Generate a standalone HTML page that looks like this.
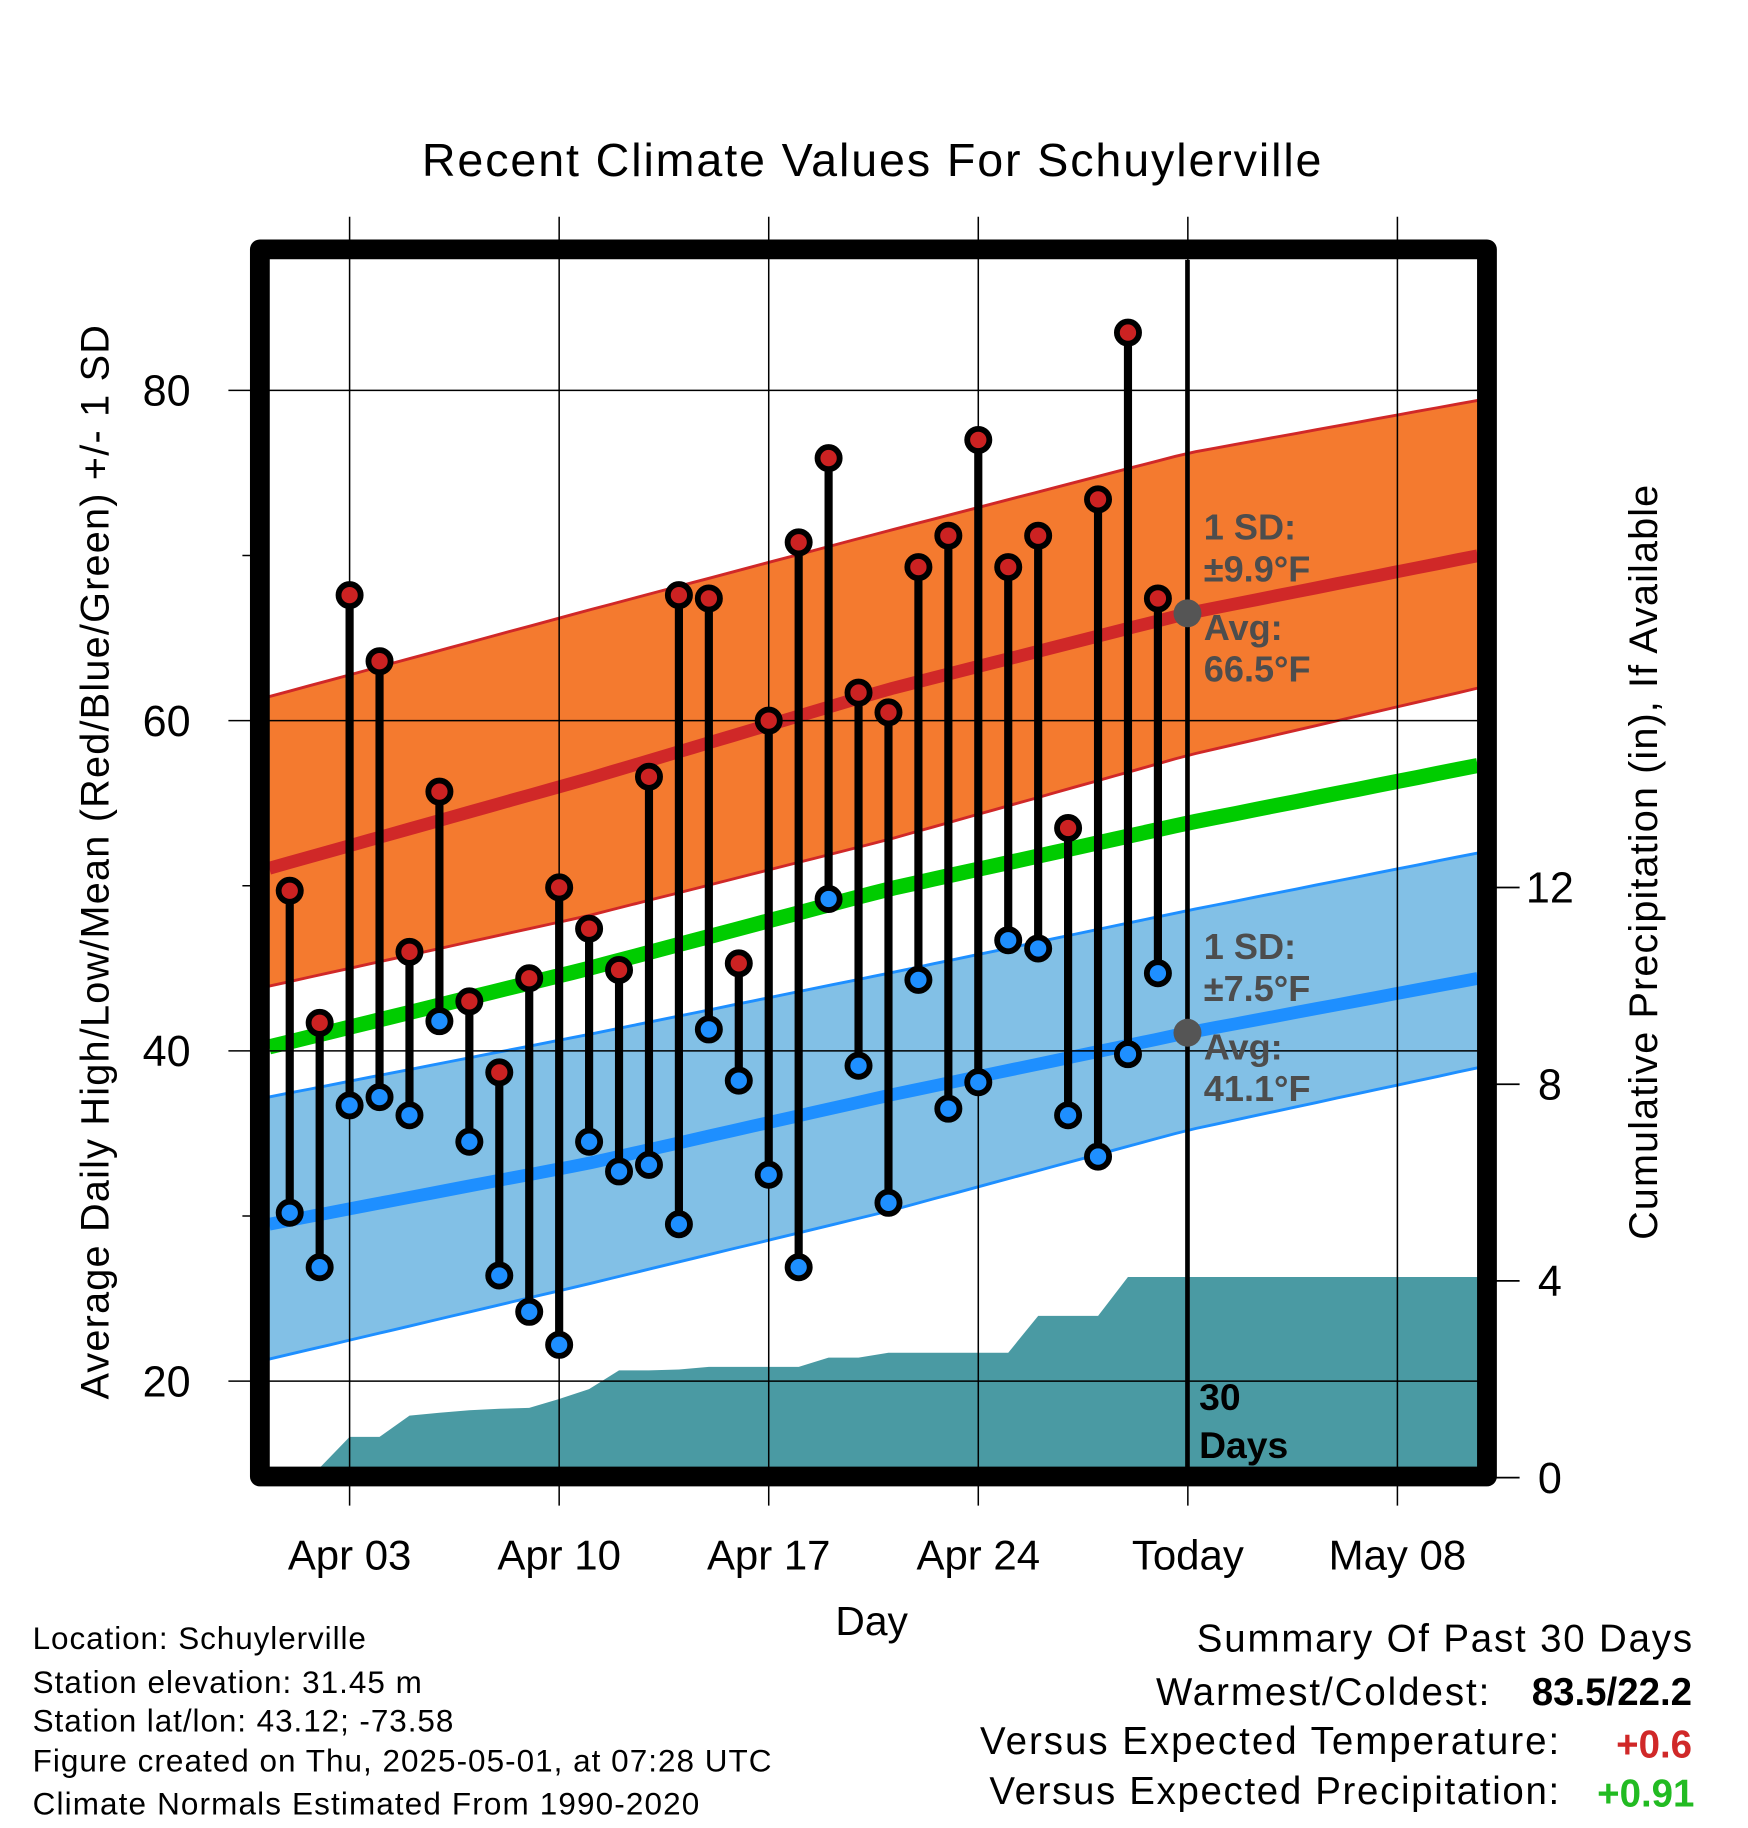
<!DOCTYPE html>
<html><head><meta charset="utf-8"><style>
html,body{margin:0;padding:0;background:#fff}
svg{display:block;font-family:"Liberation Sans",sans-serif}
</style></head><body>
<svg id="chart" width="1748" height="1828" viewBox="0 0 1500 1568.65" xmlns="http://www.w3.org/2000/svg">
<g id="layer"></g>
</svg>
<script>
const dayLabels = ["Apr 03","Apr 10","Apr 17","Apr 24","Today","May 08"];
const dayTicks = [2,9,16,23,30,37];
const highs = [49.7,41.7,67.6,63.6,46.0,55.7,43.0,38.7,44.4,49.9,47.4,44.9,56.6,67.6,67.4,45.3,60.0,70.8,75.9,61.7,60.5,69.3,71.2,77.0,69.3,71.2,53.5,73.4,83.5,67.4];
const lows = [30.2,26.9,36.7,37.2,36.1,41.8,34.5,26.4,24.2,22.2,34.5,32.7,33.1,29.5,41.3,38.2,32.5,26.9,49.2,39.1,30.8,44.3,36.5,38.1,46.7,46.2,36.1,33.6,39.8,44.7];
const precip = [0,0.2,0.83,0.83,1.26,1.32,1.37,1.40,1.42,1.60,1.80,2.18,2.18,2.20,2.25,2.25,2.25,2.25,2.44,2.44,2.54,2.54,2.54,2.54,2.54,3.29,3.29,3.29,4.08,4.08];
const normDays = [-1,10,20,30,40];
const normHigh = [50.9,56.5,61.9,66.5,70.1];
const highUpper = [61.3,66.7,71.5,76.2,79.5];
const highLower = [43.8,48.2,52.8,57.9,62.1];
const normLow = [29.4,33.2,37.3,41.1,44.5];
const lowUpper = [37.1,41.0,44.7,48.5,52.1];
const lowLower = [21.2,25.9,30.3,35.2,39.1];
const normMean = [40.1,45.0,49.8,53.8,57.4];
const yTicks = [20,40,60,80];
const pTicks = [0,4,8,12];

const L=231,R=1268,T=223,B=1259;
const X=d=>300+(d-2)*25.69;
const Y=v=>335-(v-80)*14.17;
const P=p=>1268-p*42.2;
const NS="http://www.w3.org/2000/svg";
const g=document.getElementById('layer');
function mk(tag,attrs,parent){const e=document.createElementNS(NS,tag);for(const k in attrs)e.setAttribute(k,attrs[k]);(parent||g).appendChild(e);return e;}
function interp(arr,d){for(let i=0;i<normDays.length-1;i++){if(d<=normDays[i+1]||i==normDays.length-2){const t=(d-normDays[i])/(normDays[i+1]-normDays[i]);return arr[i]+(arr[i+1]-arr[i])*t;}}}
const dStart=(L-300)/25.69+2, dEnd=(R-300)/25.69+2;
function curve(fn){const pts=[];for(let k=0;k<=60;k++){const d=dStart+(dEnd-dStart)*k/60;pts.push([X(d),Y(fn(d))]);}return pts;}
const ptsStr=p=>p.map(q=>q[0].toFixed(1)+','+q[1].toFixed(1)).join(' ');

const defs=mk('defs',{});const cp=mk('clipPath',{id:'clip'},defs);mk('rect',{x:L,y:T,width:R-L,height:B-T},cp);
const plot=mk('g',{'clip-path':'url(#clip)'});

const hu=curve(d=>interp(highUpper,d)), hl=curve(d=>interp(highLower,d));
let e=mk('polygon',{points:ptsStr(hu.concat(hl.slice().reverse())),fill:'#f47a2f'},plot);

mk('polyline',{points:ptsStr(hu),fill:'none',stroke:'#d02828','stroke-width':2.5},plot);
mk('polyline',{points:ptsStr(hl),fill:'none',stroke:'#d02828','stroke-width':2.5},plot);
const lu=curve(d=>interp(lowUpper,d)), ll=curve(d=>interp(lowLower,d));
e=mk('polygon',{points:ptsStr(lu.concat(ll.slice().reverse())),fill:'#82c0e6'},plot);

mk('polyline',{points:ptsStr(lu),fill:'none',stroke:'#1e8fff','stroke-width':2.5},plot);
mk('polyline',{points:ptsStr(ll),fill:'none',stroke:'#1e8fff','stroke-width':2.5},plot);
let pp=[[X(0),P(0)]];precip.forEach((v,i)=>pp.push([X(i),P(v)]));pp.push([R+5,P(precip[precip.length-1])]);pp.push([R+5,P(0)]);
e=mk('polygon',{points:ptsStr(pp),fill:'#4a9aa3'},plot);

yTicks.forEach(v=>{mk('line',{x1:196,x2:R,y1:Y(v),y2:Y(v),stroke:'#000','stroke-width':1.3});});
[30,50,70].forEach(v=>{mk('line',{x1:208,x2:L,y1:Y(v),y2:Y(v),stroke:'#000','stroke-width':1.3});});
dayTicks.forEach(d=>{mk('line',{x1:X(d),x2:X(d),y1:186,y2:1292,stroke:'#000','stroke-width':1.3});});
e=mk('polyline',{points:ptsStr(curve(d=>interp(normHigh,d))),fill:'none',stroke:'#d02828','stroke-width':11},plot);

e=mk('polyline',{points:ptsStr(curve(d=>interp(normMean,d))),fill:'none',stroke:'#00cc00','stroke-width':13},plot);

e=mk('polyline',{points:ptsStr(curve(d=>interp(normLow,d))),fill:'none',stroke:'#1e8fff','stroke-width':11},plot);

const ann=[["1 SD:",463],["±9.9°F",499],["Avg:",549],["66.5°F",585],["1 SD:",823],["±7.5°F",859],["Avg:",909],["41.1°F",945]];
ann.forEach(a=>{const t=mk('text',{x:1033,y:a[1],'font-size':31,'font-weight':'bold',fill:'#4d4d4d'});t.textContent=a[0];
});
mk('line',{x1:1019,x2:1019,y1:223,y2:1259,stroke:'#000','stroke-width':4});
e=mk('circle',{cx:1019,cy:Y(66.5),r:12,fill:'#555'});
e=mk('circle',{cx:1019,cy:Y(41.1),r:12,fill:'#555'});
highs.forEach((h,i)=>{
  const s=mk('line',{x1:X(i),x2:X(i),y1:Y(h),y2:Y(lows[i]),stroke:'#000','stroke-width':7});
  
});
highs.forEach((h,i)=>{
  const c=mk('circle',{cx:X(i),cy:Y(h),r:9.5,fill:'#cc2222',stroke:'#000','stroke-width':5});
  
  const c2=mk('circle',{cx:X(i),cy:Y(lows[i]),r:9.5,fill:'#1e8fff',stroke:'#000','stroke-width':5});
  
});
let t=mk('text',{x:1029,y:1210,'font-size':32,'font-weight':'bold',fill:'#000'});t.textContent='30';

t=mk('text',{x:1029,y:1251,'font-size':32,'font-weight':'bold',fill:'#000'});t.textContent='Days';

e=mk('rect',{x:223,y:214,width:1053,height:1053,fill:'none',stroke:'#000','stroke-width':17,'stroke-linejoin':'round'});

pTicks.forEach(p=>{mk('line',{x1:1284,x2:1304,y1:P(p),y2:P(p),stroke:'#000','stroke-width':1.5});
 const tt=mk('text',{x:1330,y:P(p)+13,'font-size':37,'text-anchor':'middle'});tt.textContent=p;
 });
yTicks.forEach(v=>{const tt=mk('text',{x:143,y:Y(v)+13,'font-size':37,'text-anchor':'middle'});tt.textContent=v;
 });
dayTicks.forEach((d,i)=>{const tt=mk('text',{x:X(d),y:1347,'font-size':36,'text-anchor':'middle'});tt.textContent=dayLabels[i];
 });
</script>
<svg style="position:absolute;left:0;top:0" width="1748" height="1828" viewBox="0 0 1500 1568.65" xmlns="http://www.w3.org/2000/svg" font-family="Liberation Sans, sans-serif">
<text x="748" y="151" font-size="40" text-anchor="middle" textLength="772">Recent Climate Values For Schuylerville</text>
<text x="748" y="1403" font-size="35" text-anchor="middle">Day</text>
<text transform="translate(93,740) rotate(-90)" font-size="34" text-anchor="middle" textLength="922">Average Daily High/Low/Mean (Red/Blue/Green) +/- 1 SD</text>
<text transform="translate(1422,740) rotate(-90)" font-size="34" text-anchor="middle" textLength="648">Cumulative Precipitation (in), If Available</text>
<g font-size="27">
<text x="28" y="1415" textLength="286">Location: Schuylerville</text>
<text x="28" y="1453" textLength="334">Station elevation: 31.45 m</text>
<text x="28" y="1486" textLength="361">Station lat/lon: 43.12; -73.58</text>
<text x="28" y="1520" textLength="634">Figure created on Thu, 2025-05-01, at 07:28 UTC</text>
<text x="28" y="1557" textLength="572">Climate Normals Estimated From 1990-2020</text>
</g>
<g font-size="33">
<text x="1027" y="1417" textLength="425">Summary Of Past 30 Days</text>
<text x="992" y="1463" textLength="286">Warmest/Coldest:</text>
<text x="1452" y="1463" text-anchor="end" font-weight="bold">83.5/22.2</text>
<text x="841" y="1505" textLength="497">Versus Expected Temperature:</text>
<text x="1452" y="1508" text-anchor="end" font-weight="bold" fill="#d02828">+0.6</text>
<text x="849" y="1548" textLength="489">Versus Expected Precipitation:</text>
<text x="1454" y="1550" text-anchor="end" font-weight="bold" fill="#22bb22">+0.91</text>
</g>
</svg>
</body></html>
